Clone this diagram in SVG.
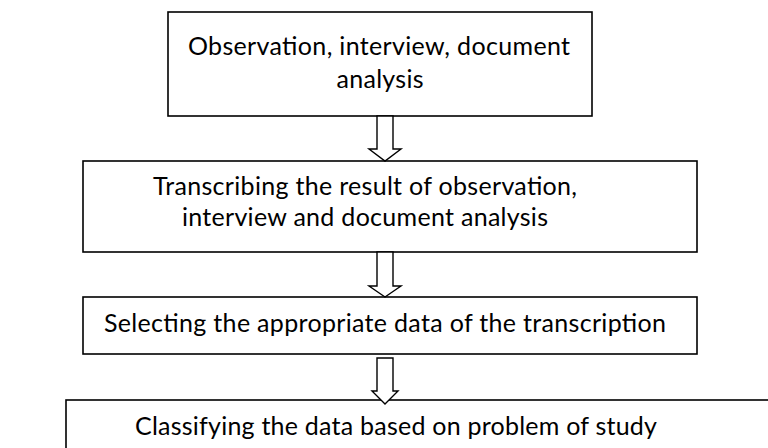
<svg xmlns="http://www.w3.org/2000/svg" width="768" height="448" viewBox="0 0 768 448">
  <style>
    .box { fill: #ffffff; stroke: #000000; stroke-width: 1.6; }
    .arrow { fill: #ffffff; stroke: #000000; stroke-width: 1.4; stroke-linejoin: miter; }
    .label { font-family: Lato, "Open Sans", "Liberation Sans", sans-serif; font-size: 25px; fill: #000000; text-anchor: middle; }
  </style>
  <rect width="768" height="448" fill="#ffffff"/>

  <!-- step 1: data collection -->
  <g id="node-collect">
    <rect class="box" x="168" y="12" width="424" height="104"/>
    <text class="label" x="379" y="55" textLength="382">Observation, interview, document</text>
    <text class="label" x="380" y="88" textLength="87">analysis</text>
  </g>

  <!-- step 2: transcription -->
  <g id="node-transcribe">
    <rect class="box" x="83" y="161" width="614" height="91"/>
    <text class="label" x="365" y="195" textLength="424">Transcribing the result of observation,</text>
    <text class="label" x="365" y="226" textLength="366">interview and document analysis</text>
  </g>

  <!-- step 3: selection -->
  <g id="node-select">
    <rect class="box" x="83" y="297" width="614" height="57"/>
    <text class="label" x="385" y="332" textLength="562">Selecting the appropriate data of the transcription</text>
  </g>

  <!-- step 4: classification (box runs past the right and bottom edges) -->
  <g id="node-classify">
    <rect class="box" x="66" y="400" width="724" height="80"/>
    <text class="label" x="396" y="435" textLength="522">Classifying the data based on problem of study</text>
  </g>

  <!-- hollow block arrows between the steps -->
  <g id="connectors">
    <polygon class="arrow" points="377,116 393,116 393,149 401,149 385,161 369,149 377,149"/>
    <polygon class="arrow" points="377,252 393,252 393,286 401,286 385,297 369,286 377,286"/>
    <polygon class="arrow" points="377,358 393,358 393,391 398,391 385,404 372,391 377,391"/>
  </g>
</svg>
